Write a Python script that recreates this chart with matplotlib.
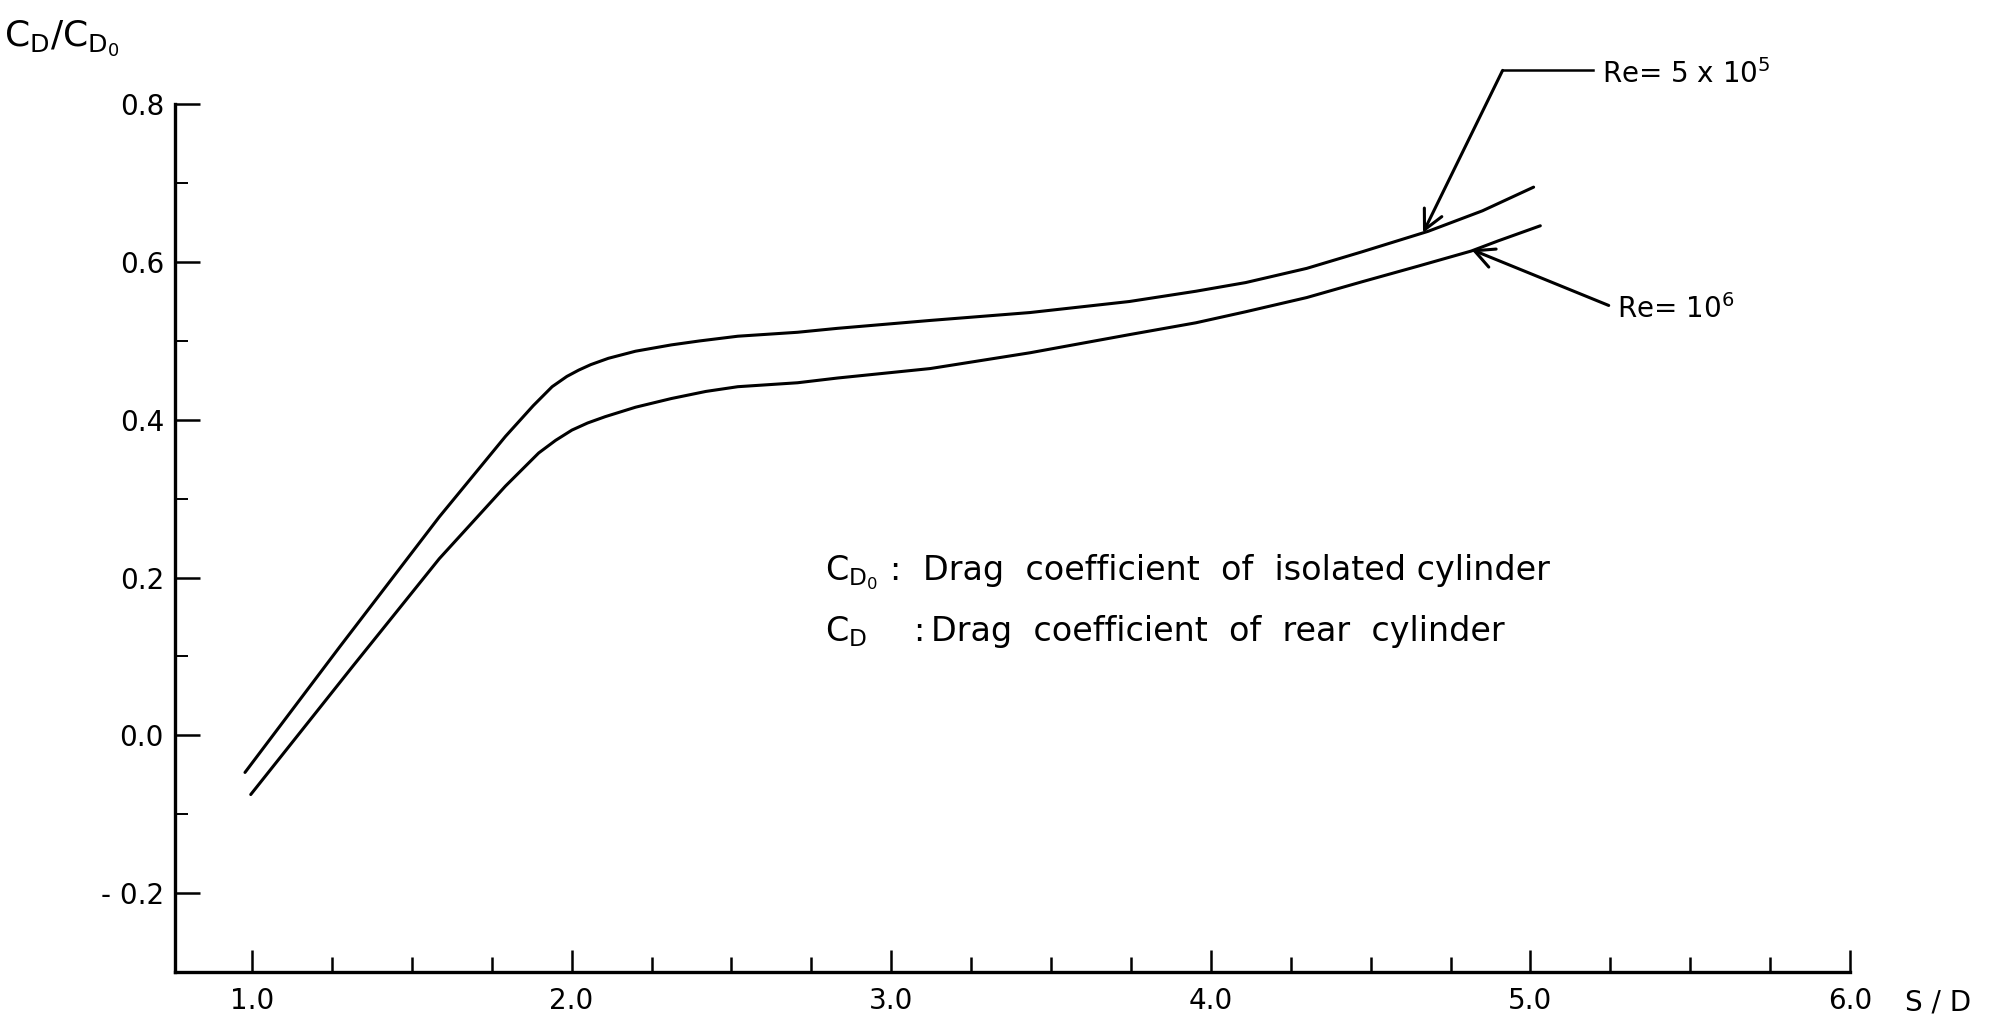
import matplotlib
matplotlib.use("Agg")
import matplotlib.pyplot as plt
from matplotlib.ticker import MultipleLocator, FixedLocator, FixedFormatter

plt.rcParams['font.family'] = ['DejaVu Sans']
plt.rcParams['mathtext.fontset'] = 'dejavusans'

# S/D spacing and drag ratio CD/CD0, Re = 5x10^5
sd_re5 = [0.978, 1.274, 1.586, 1.793, 1.880, 1.939, 1.985, 2.022, 2.060, 2.115, 2.200,
          2.312, 2.400, 2.520, 2.707, 2.832, 3.122, 3.434, 3.745, 3.953, 4.109, 4.300,
          4.473, 4.680, 4.850, 5.010]
cd_re5 = [-0.047, 0.112, 0.277, 0.379, 0.418, 0.442, 0.455, 0.463, 0.470, 0.478, 0.487,
          0.495, 0.500, 0.506, 0.511, 0.516, 0.526, 0.536, 0.550, 0.563, 0.574, 0.592,
          0.613, 0.639, 0.665, 0.695]

# Re = 10^6
sd_re6 = [0.996, 1.316, 1.586, 1.793, 1.897, 1.950, 2.001, 2.050, 2.105, 2.200,
          2.312, 2.420, 2.520, 2.707, 2.832, 3.122, 3.434, 3.745, 3.953, 4.109, 4.300,
          4.473, 4.650, 4.815, 4.900, 5.031]
cd_re6 = [-0.075, 0.088, 0.224, 0.316, 0.358, 0.374, 0.387, 0.396, 0.404, 0.416,
          0.427, 0.436, 0.442, 0.447, 0.453, 0.465, 0.485, 0.508, 0.523, 0.537, 0.555,
          0.575, 0.595, 0.614, 0.627, 0.646]

xtick_vals = [1.0, 2.0, 3.0, 4.0, 5.0, 6.0]
xtick_text = ["1.0", "2.0", "3.0", "4.0", "5.0", "6.0"]
ytick_vals = [-0.2, 0.0, 0.2, 0.4, 0.6, 0.8]
ytick_text = ["- 0.2", "0.0", "0.2", "0.4", "0.6", "0.8"]

fig = plt.figure(figsize=(19.95, 10.22), dpi=100)
ax = fig.add_axes([0.08772, 0.04892, 0.83960, 0.84902])

ax.plot(sd_re5, cd_re5, color='black', lw=2.2, solid_capstyle='round', solid_joinstyle='round')
ax.plot(sd_re6, cd_re6, color='black', lw=2.2, solid_capstyle='round', solid_joinstyle='round')

ax.set_xlim(0.759, 6.0)
ax.set_ylim(-0.3, 0.8)

for s in ['top', 'right']:
    ax.spines[s].set_visible(False)
for s in ['left', 'bottom']:
    ax.spines[s].set_linewidth(2.4)

ax.xaxis.set_major_locator(FixedLocator(xtick_vals))
ax.xaxis.set_major_formatter(FixedFormatter(xtick_text))
ax.xaxis.set_minor_locator(MultipleLocator(0.25))
ax.yaxis.set_major_locator(FixedLocator(ytick_vals))
ax.yaxis.set_major_formatter(FixedFormatter(ytick_text))
ax.yaxis.set_minor_locator(MultipleLocator(0.1))

ax.tick_params(axis='both', which='major', direction='in', width=1.8, labelsize=20)
ax.tick_params(axis='x', which='major', length=16, pad=11)
ax.tick_params(axis='x', which='minor', direction='in', length=11, width=1.8)
ax.tick_params(axis='y', which='major', length=18, pad=8)
ax.tick_params(axis='y', which='minor', direction='in', length=9, width=1.4)

# axis titles
fig.text(0.002, 0.955, r'$\mathregular{C_D/C_{D_0}}$', fontsize=26, va='baseline', ha='left')
fig.text(0.955, 0.0108, 'S / D', fontsize=20, va='baseline', ha='left')

# definitions
ax.text(2.794, 0.197, r'$\mathregular{C_{D_0}}$', fontsize=24, va='baseline', ha='left')
ax.text(2.992, 0.197, ':', fontsize=24, va='baseline', ha='left')
ax.text(3.100, 0.197, 'Drag  coefficient  of  isolated cylinder', fontsize=24,
        va='baseline', ha='left')
ax.text(2.794, 0.119, r'$\mathregular{C_D}$', fontsize=24, va='baseline', ha='left')
ax.text(3.070, 0.119, ':', fontsize=24, va='baseline', ha='left')
ax.text(3.125, 0.119, 'Drag  coefficient  of  rear  cylinder', fontsize=24,
        va='baseline', ha='left')

# Reynolds number callouts
ax.plot([4.913, 5.196], [0.843, 0.843], color='black', lw=1.8, clip_on=False)
ax.annotate('', xy=(4.664, 0.637), xytext=(4.913, 0.843),
            arrowprops=dict(arrowstyle='->', lw=2.2, color='black', mutation_scale=35,
                            shrinkA=0, shrinkB=0),
            annotation_clip=False)
ax.text(5.225, 0.827, r'Re= 5 x 10$^{5}$', fontsize=20, va='baseline', ha='left')

ax.annotate('', xy=(4.815, 0.616), xytext=(5.245, 0.545),
            arrowprops=dict(arrowstyle='->', lw=2.2, color='black', mutation_scale=35,
                            shrinkA=0, shrinkB=0),
            annotation_clip=False)
ax.text(5.27, 0.529, r'Re= 10$^{6}$', fontsize=20, va='baseline', ha='left')

fig.savefig('out.png', dpi=100)
